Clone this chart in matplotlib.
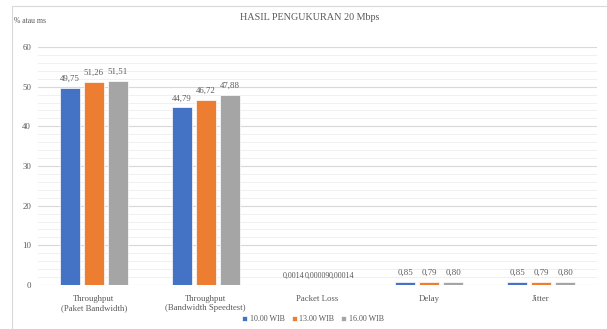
import matplotlib.pyplot as plt
import numpy as np
from matplotlib.patches import Rectangle

categories = ['Throughput\n(Paket Bandwidth)', 'Throughput\n(Bandwidth Speedtest)',
              'Packet Loss', 'Delay', 'Jitter']
series_names = ['10.00 WIB', '13.00 WIB', '16.00 WIB']
v_10 = [49.75, 44.79, 0.0014, 0.85, 0.85]
v_13 = [51.26, 46.72, 0.00009, 0.79, 0.79]
v_16 = [51.51, 47.88, 0.00014, 0.80, 0.80]
lbl_10 = ['49,75', '44,79', '0,0014', '0,85', '0,85']
lbl_13 = ['51,26', '46,72', '0,00009', '0,79', '0,79']
lbl_16 = ['51,51', '47,88', '0,00014', '0,80', '0,80']
colors = ['#4472C4', '#ED7D31', '#A5A5A5']

plt.rcParams['font.family'] = ['Liberation Serif', 'DejaVu Serif']
txt = '#595959'

fig = plt.figure(figsize=(6.07, 3.29), dpi=100)
fig.patches.append(Rectangle((12 / 607, -0.1), 1.2, 1 - 6 / 329 + 0.1,
                             transform=fig.transFigure, fill=False,
                             edgecolor='#d9d9d9', linewidth=0.8))
ax = fig.add_axes([38 / 607, 1 - 285 / 329, (597 - 38) / 607, (285 - 47) / 329])

x = np.arange(len(categories))
w = 0.18
step = 0.214
for i, (vals, lbls) in enumerate(zip([v_10, v_13, v_16], [lbl_10, lbl_13, lbl_16])):
    pos = x + (i - 1) * step
    ax.bar(pos, vals, w, color=colors[i], edgecolor='white', linewidth=0.5,
           label=series_names[i], zorder=3)
    for j, (p, v, l) in enumerate(zip(pos, vals, lbls)):
        # packet loss labels are long, keep them a touch smaller
        fs = 5.8 if j == 2 else 6.3
        ax.annotate(l, (p, v), xytext=(0, 3.5), textcoords='offset points',
                    ha='center', va='bottom', fontsize=fs, color=txt)

ax.set_xlim(-0.5, 4.5)
ax.set_ylim(0, 60)
ax.set_yticks(range(0, 61, 10))
ax.set_yticks(range(0, 61, 2), minor=True)
ax.grid(axis='y', which='major', color='#d9d9d9', linewidth=0.8, zorder=0)
ax.grid(axis='y', which='minor', color='#f0f0f0', linewidth=0.7, zorder=0)
ax.tick_params(axis='both', which='both', length=0, labelsize=6.3, colors=txt)
ax.tick_params(axis='y', pad=5)
ax.tick_params(axis='x', pad=7)
ax.set_xticks(x)
ax.set_xticklabels(categories, fontsize=6.3, color=txt)
for s in ax.spines.values():
    s.set_visible(False)

fig.text(310 / 607, 1 - 17 / 329, 'HASIL PENGUKURAN 20 Mbps', ha='center', va='center',
         fontsize=7.3, color=txt)
fig.text(14 / 607, 1 - 21 / 329, '% atau ms', ha='left', va='center',
         fontsize=5.5, color=txt)

ax.legend(loc='center', bbox_to_anchor=(313 / 607, 1 - 319 / 329),
          bbox_transform=fig.transFigure, ncol=3, frameon=False, fontsize=5.8,
          handlelength=0.6, handleheight=0.6, handletextpad=0.3, columnspacing=0.9,
          labelcolor=txt)

fig.savefig('out.png', dpi=100)
